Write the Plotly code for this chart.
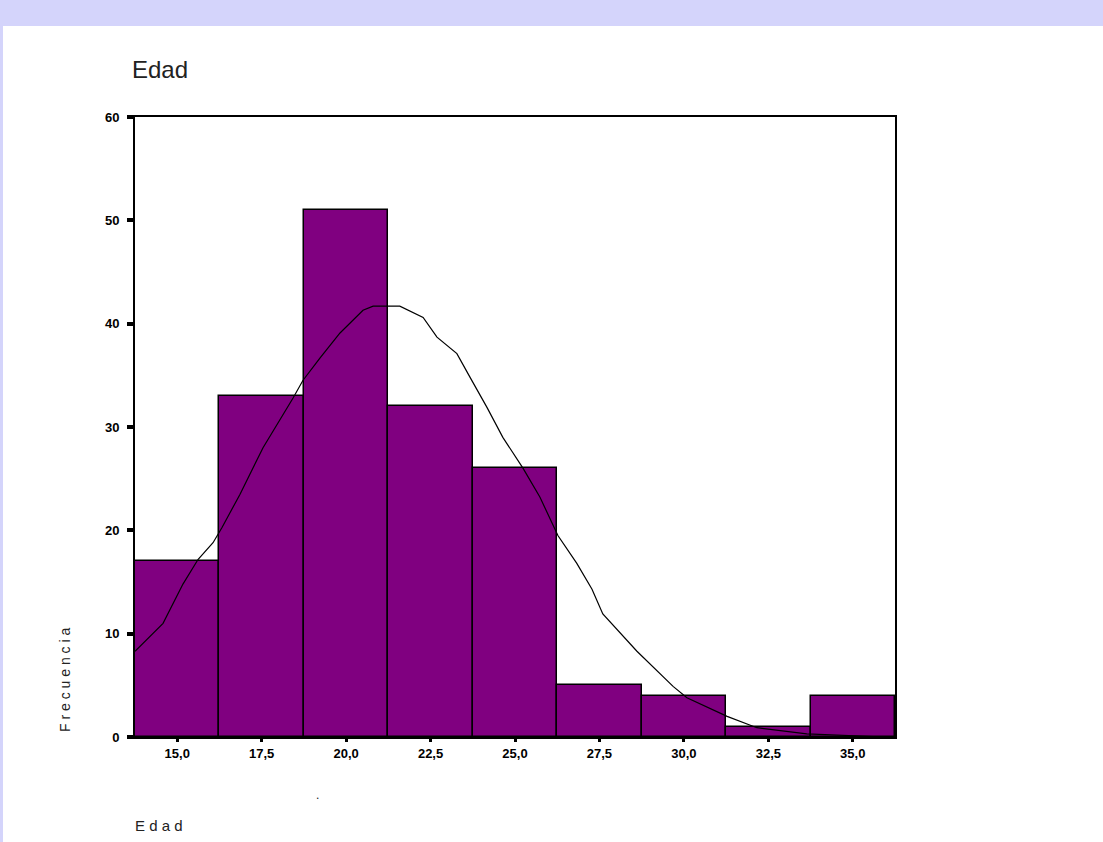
import plotly.graph_objects as go

# ---- data ----
bin_centers = [15.0, 17.5, 20.0, 22.5, 25.0, 27.5, 30.0, 32.5, 35.0]
frequencies = [17, 33, 51, 32, 26, 5, 4, 1, 4]
tick_labels = ["15,0", "17,5", "20,0", "22,5", "25,0", "27,5", "30,0", "32,5", "35,0"]
y_ticks = [0, 10, 20, 30, 40, 50, 60]

curve_x = [13.75, 14.58, 15.17, 15.62, 16.06, 16.33, 16.86, 17.54, 18.43, 18.72,
           19.23, 19.82, 20.50, 20.80, 21.59, 22.28, 22.69, 23.28, 23.67, 24.17,
           24.64, 25.24, 25.74, 26.27, 26.83, 27.28, 27.60, 28.61, 29.68, 30.09,
           31.28, 32.16, 33.64, 35.60]
curve_y = [8.3, 11.0, 14.8, 17.2, 18.8, 20.3, 23.5, 28.0, 32.8, 34.5,
           36.7, 39.1, 41.3, 41.7, 41.7, 40.6, 38.7, 37.1, 34.8, 31.9,
           29.0, 26.0, 23.2, 19.5, 16.8, 14.3, 11.9, 8.3, 4.9, 3.8,
           2.0, 0.9, 0.3, 0.05]

BIN_WIDTH = 2.5
W, H = 1103, 842
L, R, T, B = 135, 895, 117, 737  # plot area in pixels


def px_x(p):
    return (p - L) / (R - L)


def px_y(p):
    return (B - p) / (B - T)


fig = go.Figure()
fig.add_trace(go.Bar(
    x=bin_centers, y=frequencies, width=BIN_WIDTH,
    marker=dict(color="#800080", line=dict(color="black", width=1.5)),
    hoverinfo="skip", showlegend=False,
))
fig.add_trace(go.Scatter(
    x=curve_x, y=curve_y, mode="lines",
    line=dict(color="black", width=1.2),
    hoverinfo="skip", showlegend=False,
))

font_ticks = dict(family="Liberation Sans, Arial, sans-serif", size=13, color="black",
                  weight="bold")

fig.update_layout(
    width=W, height=H,
    margin=dict(l=L, r=W - R, t=T, b=H - B, pad=0),
    paper_bgcolor="white", plot_bgcolor="white",
    bargap=0,
    xaxis=dict(
        range=[13.75, 36.25], tickvals=bin_centers, ticktext=tick_labels,
        showgrid=False, zeroline=False, showline=True, mirror=True,
        linecolor="black", linewidth=2, ticks="outside", ticklen=3,
        tickwidth=3, tickcolor="black", tickfont=font_ticks,
    ),
    yaxis=dict(
        range=[0, 60], tickvals=y_ticks, ticktext=[str(v) for v in y_ticks],
        showgrid=False, zeroline=False, showline=True, mirror=True,
        linecolor="black", linewidth=2, ticks="outside", ticklen=6,
        tickwidth=4, tickcolor="black", tickfont=font_ticks,
        ticklabelstandoff=5,
    ),
    shapes=[
        dict(type="rect", xref="paper", yref="paper",
             x0=px_x(0), x1=px_x(W), y0=px_y(26), y1=px_y(0),
             fillcolor="#d4d4fb", line=dict(width=0), layer="below"),
        dict(type="rect", xref="paper", yref="paper",
             x0=px_x(0), x1=px_x(3), y0=px_y(H), y1=px_y(26),
             fillcolor="#d4d4fb", line=dict(width=0), layer="below"),
    ],
    annotations=[
        dict(text="Edad", xref="paper", yref="paper", x=px_x(130), y=px_y(70),
             xanchor="left", yanchor="middle", showarrow=False,
             font=dict(family="Liberation Sans, Arial, sans-serif", size=24, color="#222")),
        dict(text="F r e c u e n c i a", xref="paper", yref="paper",
             x=px_x(65), y=px_y(680), textangle=-90,
             xanchor="center", yanchor="middle", showarrow=False,
             font=dict(family="Liberation Sans, Arial, sans-serif", size=14, color="#222")),
        dict(text="E d a d", xref="paper", yref="paper", x=px_x(133), y=px_y(825),
             xanchor="left", yanchor="middle", showarrow=False,
             font=dict(family="Liberation Sans, Arial, sans-serif", size=15, color="#222")),
        dict(text=".", xref="paper", yref="paper", x=px_x(317), y=px_y(795),
             xanchor="center", yanchor="middle", showarrow=False,
             font=dict(family="Liberation Sans, Arial, sans-serif", size=12, color="#222")),
    ],
)

fig.write_html("out.html", config={"displayModeBar": False},
               post_script="document.body.style.margin='0';")
